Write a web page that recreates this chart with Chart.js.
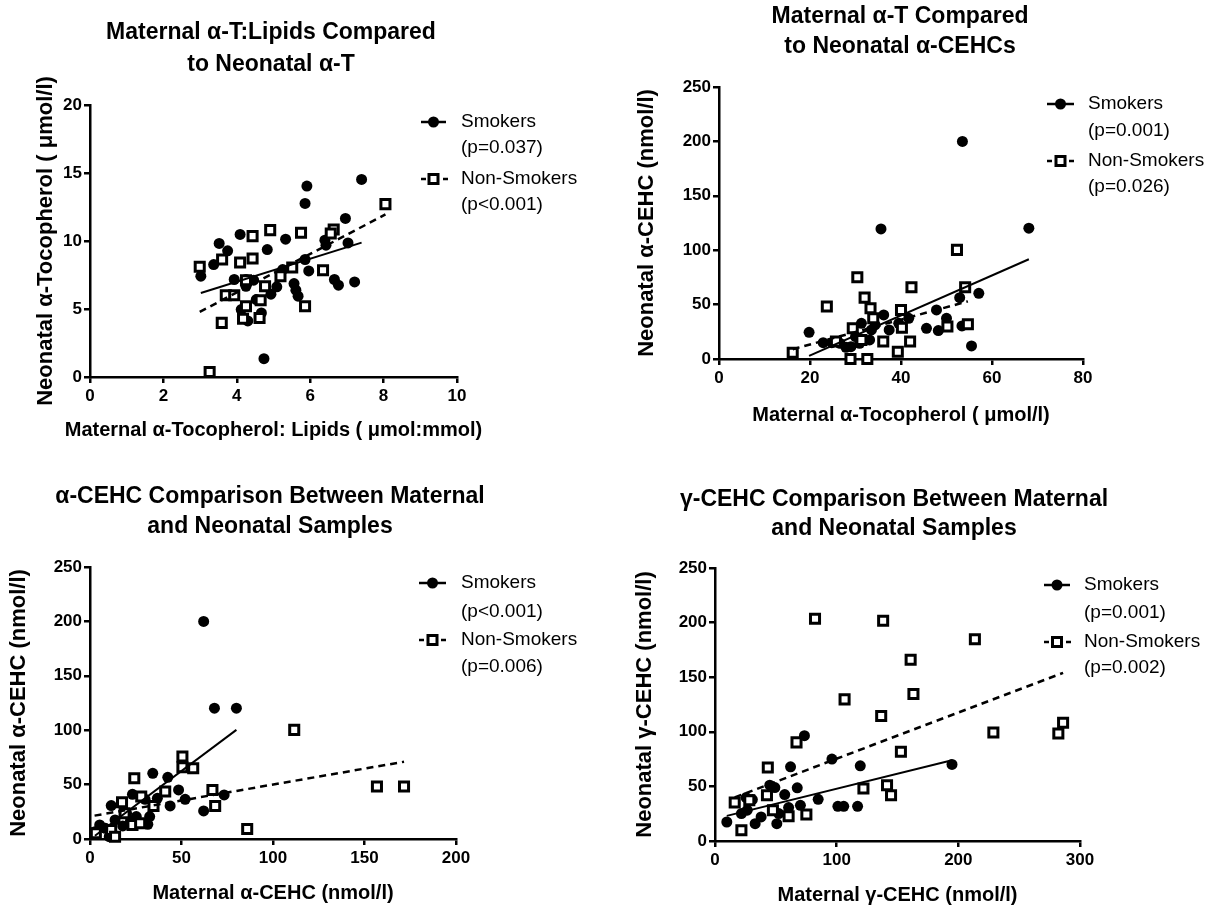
<!DOCTYPE html>
<html>
<head>
<meta charset="utf-8">
<script src="https://cdn.jsdelivr.net/npm/chart.js"></script>
<style>
  body { margin: 0; background: #fff; width: 1215px; height: 911px; position: relative; overflow: hidden; }
  canvas { position: absolute; }
</style>
</head>
<body>
<canvas id="p1"></canvas>
<canvas id="p2"></canvas>
<canvas id="p3"></canvas>
<canvas id="p4"></canvas>
<script>
// ---- panel 1: maternal a-T:lipids vs neonatal a-T
const p1SmokX = [7.40, 5.91, 5.86, 6.96, 7.03, 4.09, 5.33, 6.40, 6.43, 3.52, 3.75, 4.83, 3.37, 3.02, 5.86, 5.96, 3.93, 4.25, 4.46, 4.25, 5.25, 5.09, 4.93, 5.56, 5.61, 5.67, 6.66, 6.77, 7.21, 4.12, 4.30, 4.53, 4.67, 4.74];
const p1SmokY = [14.53, 14.04, 12.76, 11.66, 9.86, 10.48, 10.13, 10.06, 9.69, 9.82, 9.28, 9.37, 8.27, 7.41, 8.64, 7.80, 7.17, 7.17, 7.12, 6.67, 7.90, 6.63, 6.09, 6.87, 6.38, 5.94, 7.17, 6.75, 6.99, 4.96, 4.12, 5.69, 4.71, 1.35];
const p1NonX = [2.99, 3.60, 4.09, 4.43, 4.43, 4.91, 5.75, 6.64, 6.56, 8.05, 5.51, 6.35, 5.19, 4.25, 4.77, 3.70, 3.93, 4.25, 4.65, 4.62, 4.17, 3.59, 5.86, 3.26];
const p1NonY = [8.10, 8.64, 8.42, 8.71, 10.36, 10.80, 10.60, 10.85, 10.55, 12.71, 8.05, 7.85, 7.41, 7.12, 6.67, 6.01, 6.01, 5.20, 5.64, 4.34, 4.29, 3.98, 5.20, 0.37];
const p1SmokFit = [[3.02, 6.18], [7.40, 9.88]];
const p1NonFit = [[2.99, 4.79], [8.05, 11.95]];
const p1XTicks = [0, 2, 4, 6, 8, 10];
const p1YTicks = [0, 5, 10, 15, 20];

// ---- panel 2: maternal a-T vs neonatal a-CEHC
const p2SmokX = [53.5, 35.6, 68.1, 57.1, 52.9, 47.8, 50.0, 48.2, 45.6, 53.4, 55.5, 36.2, 41.7, 37.4, 33.5, 31.3, 33.1, 30.9, 29.0, 19.8, 22.9, 24.8, 26.6, 27.9, 34.3, 39.5, 30.0];
const p2SmokY = [200, 119.6, 120.2, 60.4, 56.4, 45.1, 37.4, 26.1, 28.2, 30.4, 12, 40.5, 37.4, 26.7, 26.7, 32.8, 17.5, 14.4, 11.3, 24.5, 15, 15, 14.4, 10.7, 31.3, 32.8, 20.6];
const p2NonX = [52.3, 30.4, 42.3, 54.1, 32.0, 23.7, 33.3, 40.0, 33.9, 29.4, 40.2, 50.2, 54.7, 36.1, 42.0, 39.3, 16.2, 28.9, 32.6, 25.7, 31.3];
const p2NonY = [100.3, 75.2, 66, 66, 56.4, 48.2, 46.6, 45.1, 37.4, 28.2, 28.8, 29.8, 31.9, 16, 16, 6.7, 5.8, 0, 0, 16, 17.5];
const p2SmokFit = [[19.8, 2.8], [68.1, 91.7]];
const p2NonFit = [[16.2, 9], [54.7, 53]];
const p2XTicks = [0, 20, 40, 60, 80];
const p2YTicks = [0, 50, 100, 150, 200, 250];

// ---- panel 3: maternal vs neonatal a-CEHC
const p3SmokX = [62.1, 68, 80, 34.3, 42.5, 48.4, 52, 43.8, 62.1, 73.3, 23.2, 11.6, 30.1, 36.8, 20, 31.6, 22.1, 5.3, 10.5, 2.7, 8.4, 13.7, 25.3, 32.6, 17.9];
const p3SmokY = [200, 120.2, 120.2, 60.4, 56.7, 45.1, 36.5, 30.4, 25.8, 40.5, 41.1, 30.7, 36.5, 37.4, 23.6, 13.5, 16.6, 12.9, 2.1, 6.7, 9.8, 17.5, 20.6, 20.6, 12];
const p3NonX = [50.5, 50.5, 56.4, 24.2, 41.1, 66.9, 68.4, 85.9, 111.6, 156.8, 171.6, 17.5, 28, 34.7, 3.2, 11.6, 23.2, 27.4, 13.7, 18.9];
const p3NonY = [75.8, 66, 65, 55.8, 43.6, 45.1, 30.4, 9.2, 100.3, 48.2, 48.2, 33.7, 39, 30.4, 5.2, 8.3, 12.9, 14.4, 2.1, 23.6];
const p3SmokFit = [[2.7, 3], [80, 100.3]];
const p3NonFit = [[2.5, 21.5], [171.6, 71]];
const p3XTicks = [0, 50, 100, 150, 200];
const p3YTicks = [0, 50, 100, 150, 200, 250];

// ---- panel 4: maternal vs neonatal g-CEHC
const p4SmokX = [73.5, 96.1, 62.1, 119.4, 194.8, 67.6, 45, 49.2, 57.3, 84.8, 101, 105.8, 117.2, 9.7, 25.6, 30.7, 33, 50.8, 37.9, 70.2, 60.5, 21.7, 52.4, 26.5];
const p4SmokY = [96.4, 75, 67.9, 68.8, 70.1, 48.7, 51.1, 48.9, 42.5, 38.2, 31.8, 31.8, 31.8, 17.4, 39.8, 37.9, 15.9, 15.9, 22, 32.7, 30.6, 25.1, 25.1, 28.2];
const p4NonX = [82.2, 138.2, 213.6, 160.8, 163.1, 106.5, 136.6, 228.8, 282.2, 286.1, 67, 152.8, 43.4, 122, 141.4, 144.7, 16.2, 42.7, 21.7, 75.1, 60.5, 28.2, 47.6];
const p4NonY = [203.5, 201.7, 184.8, 165.9, 134.6, 129.7, 114.4, 99.4, 98.5, 108.3, 90.3, 81.7, 67.3, 48, 51.1, 41.9, 35.2, 41.9, 9.8, 24.2, 22.6, 37.3, 28.2];
const p4SmokFit = [[9.7, 23], [194.8, 74]];
const p4NonFit = [[16.2, 40], [286.1, 154]];
const p4XTicks = [0, 100, 200, 300];
const p4YTicks = [0, 50, 100, 150, 200, 250];

const FONT = "'Liberation Sans', Arial, sans-serif";
const pts = (xs, ys) => xs.map((x, i) => ({ x, y: ys[i] }));
const fitPts = (f) => f.map(p => ({ x: p[0], y: p[1] }));

// titles, axis titles and legend, drawn at fixed spots in each panel
// (axis titles done here so Chart.js doesn't squeeze them to the axis length)
const deco = {
  id: 'deco',
  afterDraw(chart, args, o) {
    const ctx = chart.ctx;
    const ca = chart.chartArea;
    ctx.save();
    ctx.fillStyle = '#000';
    ctx.textAlign = 'center';
    ctx.textBaseline = 'middle';
    ctx.font = 'bold 23px ' + FONT;
    o.title.forEach((t, i) => ctx.fillText(t, o.titleX, o.titleY[i]));

    ctx.font = 'bold 20px ' + FONT;
    ctx.fillText(o.xTitle, (ca.left + ca.right) / 2, o.xTitleY);
    ctx.save();
    ctx.translate(o.yTitleX, (ca.top + ca.bottom) / 2);
    ctx.rotate(-Math.PI / 2);
    ctx.font = 'bold 22px ' + FONT;
    ctx.fillText(o.yTitle, 0, 0);
    ctx.restore();

    const lg = o.legend;
    const cx = (lg.x1 + lg.x2) / 2;
    ctx.strokeStyle = '#000';
    ctx.lineWidth = 2.5;
    // smokers: solid line + dot
    ctx.beginPath(); ctx.moveTo(lg.x1, lg.y[0]); ctx.lineTo(lg.x2, lg.y[0]); ctx.stroke();
    ctx.beginPath(); ctx.arc(cx, lg.y[0], 5.5, 0, Math.PI * 2); ctx.fill();
    // non-smokers: dashed line + open square
    ctx.setLineDash([5, 6]);
    ctx.beginPath(); ctx.moveTo(lg.x1, lg.y[2]); ctx.lineTo(lg.x2 + 2, lg.y[2]); ctx.stroke();
    ctx.setLineDash([]);
    ctx.lineWidth = 3;
    ctx.fillStyle = '#fff';
    ctx.fillRect(cx - 4.5, lg.y[2] - 4.5, 9, 9);
    ctx.strokeRect(cx - 4.5, lg.y[2] - 4.5, 9, 9);

    ctx.fillStyle = '#000';
    ctx.textAlign = 'left';
    ctx.font = '19px ' + FONT;
    lg.text.forEach((t, i) => ctx.fillText(t, lg.tx, lg.y[i]));
    ctx.restore();
  }
};

function axis(pos, min, max, ticks, fixed) {
  const horiz = pos === 'bottom';
  return {
    type: 'linear', position: pos, min, max,
    afterBuildTicks: s => { s.ticks = ticks.map(v => ({ value: v })); },
    afterFit: s => { if (horiz) s.height = fixed; else s.width = fixed; },
    ticks: {
      color: '#000', font: { family: FONT, size: 17, weight: 'bold' },
      padding: horiz ? 3 : 2, autoSkip: false, maxRotation: 0,
      callback: (v) => String(v)
    },
    grid: { drawOnChartArea: false, drawTicks: true, tickLength: 6, color: '#000', lineWidth: 2.5 },
    border: { display: true, color: '#000', width: 2.5 },
    title: { display: false }
  };
}

function makePanel(id, o) {
  const cv = document.getElementById(id);
  cv.style.left = o.left + 'px';
  cv.style.top = o.top + 'px';
  cv.width = o.w;
  cv.height = o.h;
  new Chart(cv, {
    type: 'scatter',
    data: {
      datasets: [
        { data: fitPts(o.smokFit), showLine: true, pointRadius: 0, borderColor: '#000', borderWidth: 2, order: 0, clip: false },
        { data: fitPts(o.nonFit), showLine: true, pointRadius: 0, borderColor: '#000', borderWidth: 2.5, borderDash: [7, 5], order: 0, clip: false },
        { data: pts(o.nx, o.ny), pointStyle: 'rect', pointRadius: 6.4, backgroundColor: '#fff', borderColor: '#000', borderWidth: 3, order: 1, clip: false },
        { data: pts(o.sx, o.sy), pointStyle: 'circle', pointRadius: 5.5, backgroundColor: '#000', borderColor: '#000', borderWidth: 0, order: 2, clip: false }
      ]
    },
    options: {
      responsive: false, animation: false, devicePixelRatio: 1,
      layout: { padding: { top: o.ca.top, right: o.w - o.ca.right, left: 0, bottom: 0 } },
      plugins: {
        legend: { display: false }, tooltip: { enabled: false },
        deco: {
          title: o.title, titleX: o.titleX, titleY: o.titleY, legend: o.legend,
          xTitle: o.xTitle, xTitleY: o.xTitleY, yTitle: o.yTitle, yTitleX: o.yTitleX
        }
      },
      scales: {
        x: axis('bottom', o.xr[0], o.xr[1], o.xTicks, o.h - o.ca.bottom),
        y: axis('left', o.yr[0], o.yr[1], o.yTicks, o.ca.left)
      }
    },
    plugins: [deco]
  });
}

makePanel('p1', {
  left: 0, top: 0, w: 605, h: 450,
  ca: { left: 90, right: 457, top: 105, bottom: 377 },
  sx: p1SmokX, sy: p1SmokY, nx: p1NonX, ny: p1NonY, smokFit: p1SmokFit, nonFit: p1NonFit,
  xr: [0, 10], yr: [0, 20], xTicks: p1XTicks, yTicks: p1YTicks,
  xTitle: 'Maternal α-Tocopherol: Lipids ( μmol:mmol)', xTitleY: 430,
  yTitle: 'Neonatal α-Tocopherol ( μmol/l)', yTitleX: 46,
  title: ['Maternal α-T:Lipids Compared', 'to Neonatal α-T'], titleX: 271, titleY: [33, 65],
  legend: { x1: 421, x2: 446, tx: 461, y: [122, 148, 179, 205], text: ['Smokers', '(p=0.037)', 'Non-Smokers', '(p<0.001)'] }
});

makePanel('p2', {
  left: 605, top: 0, w: 610, h: 450,
  ca: { left: 114, right: 478, top: 87, bottom: 359 },
  sx: p2SmokX, sy: p2SmokY, nx: p2NonX, ny: p2NonY, smokFit: p2SmokFit, nonFit: p2NonFit,
  xr: [0, 80], yr: [0, 250], xTicks: p2XTicks, yTicks: p2YTicks,
  xTitle: 'Maternal α-Tocopherol ( μmol/l)', xTitleY: 415,
  yTitle: 'Neonatal α-CEHC (nmol/l)', yTitleX: 42,
  title: ['Maternal α-T Compared', 'to Neonatal α-CEHCs'], titleX: 295, titleY: [17, 47],
  legend: { x1: 442, x2: 469, tx: 483, y: [104, 131, 161, 187], text: ['Smokers', '(p=0.001)', 'Non-Smokers', '(p=0.026)'] }
});

makePanel('p3', {
  left: 0, top: 450, w: 605, h: 461,
  ca: { left: 90, right: 456, top: 117, bottom: 389 },
  sx: p3SmokX, sy: p3SmokY, nx: p3NonX, ny: p3NonY, smokFit: p3SmokFit, nonFit: p3NonFit,
  xr: [0, 200], yr: [0, 250], xTicks: p3XTicks, yTicks: p3YTicks,
  xTitle: 'Maternal α-CEHC (nmol/l)', xTitleY: 443,
  yTitle: 'Neonatal α-CEHC (nmol/l)', yTitleX: 19,
  title: ['α-CEHC Comparison Between Maternal', 'and Neonatal Samples'], titleX: 270, titleY: [47, 77],
  legend: { x1: 419, x2: 446, tx: 461, y: [133, 162, 190, 217], text: ['Smokers', '(p<0.001)', 'Non-Smokers', '(p=0.006)'] }
});

makePanel('p4', {
  left: 605, top: 450, w: 610, h: 461,
  ca: { left: 110, right: 475, top: 118, bottom: 391 },
  sx: p4SmokX, sy: p4SmokY, nx: p4NonX, ny: p4NonY, smokFit: p4SmokFit, nonFit: p4NonFit,
  xr: [0, 300], yr: [0, 250], xTicks: p4XTicks, yTicks: p4YTicks,
  xTitle: 'Maternal γ-CEHC (nmol/l)', xTitleY: 445,
  yTitle: 'Neonatal γ-CEHC (nmol/l)', yTitleX: 40,
  title: ['γ-CEHC Comparison Between Maternal', 'and Neonatal Samples'], titleX: 289, titleY: [50, 79],
  legend: { x1: 439, x2: 465, tx: 479, y: [135, 163, 192, 218], text: ['Smokers', '(p=0.001)', 'Non-Smokers', '(p=0.002)'] }
});
</script>
</body>
</html>
